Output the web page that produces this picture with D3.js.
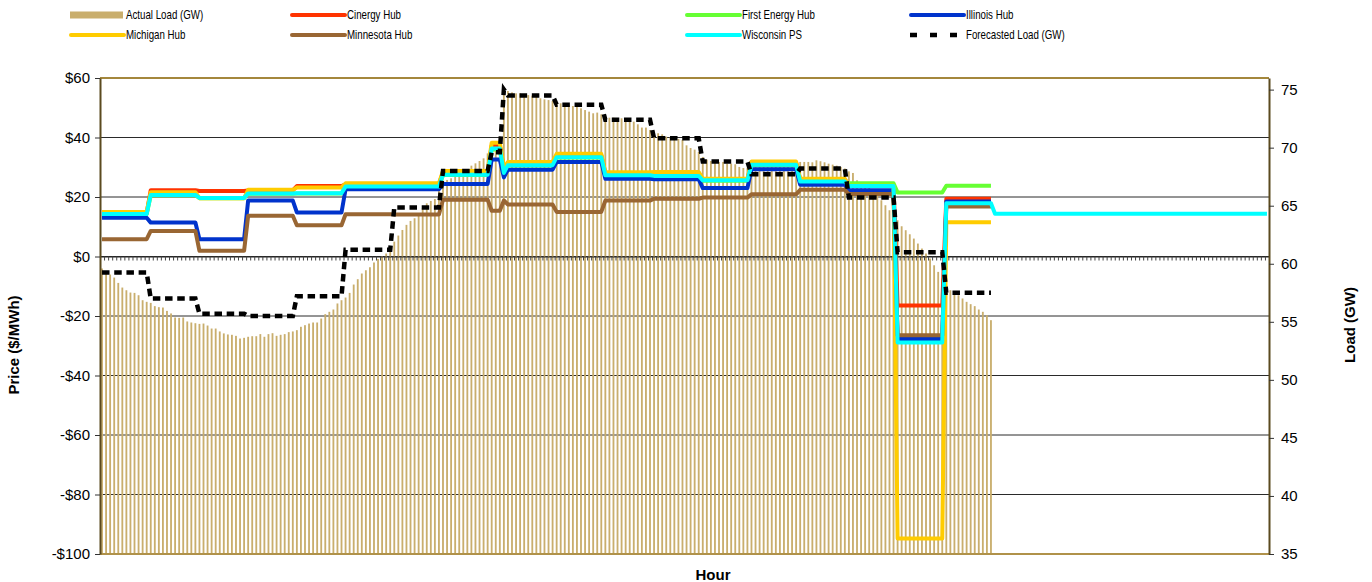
<!DOCTYPE html>
<html>
<head>
<meta charset="utf-8">
<script src="https://cdn.jsdelivr.net/npm/d3@7"></script>
<style>
  body { margin: 0; background: #fff; }
  svg { display: block; font-family: 'Liberation Sans', Arial, sans-serif; }
</style>
</head>
<body>
<div class="chart"></div>
<script>
// 5-minute intervals over the day (24 h x 12)
const intervals = d3.range(288)

// actual load (GW), one value per 5-minute interval
const loadActual = [
  59.59, 59.30, 59.07, 58.81, 58.35, 57.95, 57.72, 57.52, 57.49, 57.29, 56.86, 56.72,
  56.63, 56.35, 56.26, 56.23, 55.94, 55.72, 55.37, 55.34, 55.37, 55.03, 54.94, 54.88,
  54.82, 54.85, 54.68, 54.42, 54.42, 54.17, 54.00, 53.91, 53.88, 53.79, 53.56, 53.62,
  53.71, 53.76, 53.76, 53.94, 53.71, 53.94, 54.02, 53.79, 53.88, 53.94, 54.11, 54.17,
  54.28, 54.57, 54.71, 54.85, 54.94, 54.94, 55.28, 55.66, 55.86, 56.06, 56.58, 56.86,
  57.09, 57.49, 58.21, 58.67, 59.16, 59.44, 59.70, 60.11, 60.42, 60.65, 60.88, 61.17,
  61.91, 62.43, 62.91, 63.35, 63.69, 63.92, 64.26, 64.78, 65.21, 65.41, 65.58, 66.50,
  66.93, 67.22, 67.36, 67.65, 67.85, 67.99, 68.16, 68.45, 68.65, 68.85, 69.08, 69.51,
  69.80, 70.37, 70.95, 74.82, 74.88, 74.76, 74.68, 74.68, 74.62, 74.53, 74.48, 74.39,
  74.25, 74.16, 74.10, 74.02, 73.90, 73.82, 73.82, 73.73, 73.59, 73.53, 73.39, 73.24,
  73.10, 72.96, 73.02, 72.87, 72.67, 72.58, 72.58, 72.53, 72.53, 72.38, 72.30, 72.24,
  72.01, 71.73, 71.73, 71.52, 71.38, 71.24, 71.15, 70.95, 70.87, 70.81, 70.75, 70.66,
  70.20, 69.97, 69.83, 69.63, 69.20, 68.97, 68.85, 68.83, 68.77, 68.77, 68.62, 68.62,
  68.57, 68.34, 68.25, 68.28, 68.34, 68.40, 68.45, 68.48, 68.54, 68.54, 68.54, 68.54,
  68.54, 68.57, 68.62, 68.62, 68.77, 68.77, 68.77, 68.74, 68.91, 68.83, 68.74, 68.62,
  68.54, 68.45, 68.34, 68.20, 67.96, 67.82, 67.19, 67.04, 66.91, 66.67, 66.33, 65.96,
  65.47, 65.04, 64.61, 64.18, 63.75, 63.23, 62.89, 62.54, 62.17, 61.74, 61.31, 60.88,
  60.45, 59.87, 59.30, 58.73, 58.15, 57.72, 57.44, 57.29, 57.01, 56.72, 56.52, 56.35,
  56.06, 55.86, 55.57, 55.14
]

// price periods: index of the first interval of each period
const segStart = [0, 12, 24, 36, 48, 60, 72, 84, 96, 99, 100, 112, 124, 136, 148, 160, 172, 184, 196, 208]

// prices ($/MWh), one value per period
const cinergy     = [14.6, 22.3, 22.0, 22.2, 23.7, 24.3, 24.3, 28.3, 37.3, 29.5, 31.4, 34.0, 28.0, 28.0, 25.8, 31.5, 25.8, 23.9, -16.5, 19.4]
const firstEnergy = [14.3, 20.6, 19.6, 21.1, 21.2, 23.4, 23.4, 27.4, 36.0, 28.0, 30.6, 33.3, 27.2, 27.0, 25.5, 30.7, 25.1, 24.6, 21.5, 23.8]
const illinois    = [13.0, 11.4, 5.8, 18.8, 14.8, 22.6, 22.6, 24.4, 32.6, 26.6, 29.2, 31.8, 26.1, 26.0, 23.0, 29.3, 24.1, 22.3, -27.7, 18.5]
const michigan    = [15.0, 21.6, 19.6, 22.4, 23.2, 24.6, 24.6, 28.7, 38.2, 29.8, 31.8, 34.5, 28.3, 28.4, 26.1, 31.9, 26.1, 23.8, -94.8, 11.5]
const minnesota   = [5.8, 8.6, 1.9, 13.7, 10.5, 14.2, 14.1, 19.1, 15.4, 18.8, 17.5, 15.0, 18.8, 19.4, 19.8, 20.9, 22.4, 21.0, -26.5, 16.8]
const wisconsin   = [14.3, 20.7, 19.7, 21.2, 21.3, 23.5, 23.5, 27.5, 36.3, 28.1, 30.7, 33.4, 27.3, 27.1, 25.6, 30.8, 25.2, 23.7, -28.9, 17.9]
const wisconsinTail = 14.4   // rest of the day

// forecasted load (GW), one value per period
const forecast = [59.25, 57.0, 55.7, 55.5, 57.2, 61.2, 64.85, 68.0, 69.6, 75.0, 74.5, 73.7, 72.4, 70.8, 68.8, 67.7, 68.2, 65.7, 61.0, 57.5]

const priceTicks = [-100, -80, -60, -40, -20, 0, 20, 40, 60]
const loadTicks = [35, 40, 45, 50, 55, 60, 65, 70, 75]

const W = 1372, H = 582
const plot = {left: 100, right: 1269, top: 78, bottom: 554}

const svg = d3.select('.chart')
  .append('svg')
    .attr('width', W)
    .attr('height', H)

const xBand = d3.scaleBand()
  .domain(intervals)
  .range([plot.left, plot.right])
  .paddingInner(0.55)
  .paddingOuter(0.275)
const xLin = d3.scaleLinear()
  .domain([0, intervals.length])
  .range([plot.left, plot.right])
const xc = i => xBand(i) + xBand.bandwidth() / 2

const yPrice = d3.scaleLinear().domain([-100, 60]).range([plot.bottom, plot.top])
const yLoad = d3.scaleLinear().domain([35, 76]).range([plot.bottom, plot.top])

// gridlines (behind the bars)
svg.append('g')
  .selectAll('line')
  .data(priceTicks.filter(d => d > -100 && d < 60))
  .enter()
  .append('line')
    .attr('x1', plot.left)
    .attr('x2', plot.right)
    .attr('y1', d => yPrice(d))
    .attr('y2', d => yPrice(d))
    .style('stroke', '#2a2a2a')
    .style('stroke-width', 1)

// actual load bars
svg.append('g')
  .selectAll('rect')
  .data(loadActual)
  .enter()
  .append('rect')
    .attr('x', (d, i) => xBand(i))
    .attr('width', xBand.bandwidth())
    .attr('y', d => yLoad(d))
    .attr('height', d => yLoad(35) - yLoad(d))
    .style('fill', '#c9ae6d')

// top / bottom frame
svg.append('line')
  .attr('x1', plot.left).attr('x2', plot.right)
  .attr('y1', plot.top).attr('y2', plot.top)
  .style('stroke', '#a4873c').style('stroke-width', 2)
svg.append('line')
  .attr('x1', plot.left).attr('x2', plot.right)
  .attr('y1', plot.bottom).attr('y2', plot.bottom)
  .style('stroke', '#b0924a').style('stroke-width', 2)

// category axis crossing at $0
const xAxis = d3.axisBottom(xLin)
  .tickValues(d3.range(0, intervals.length + 1))
  .tickFormat('')
  .tickSize(4)
  .tickSizeOuter(0)
svg.append('g')
    .attr('transform', `translate(0, ${yPrice(0)})`)
  .call(xAxis)
  .call(g => g.select('.domain').style('stroke', '#222'))
  .call(g => g.selectAll('.tick line').style('stroke', '#444'))

// step series: flat within each period, straight joins between periods
function stepPoints(values) {
  const pts = []
  segStart.forEach((s, k) => {
    const e = (k + 1 < segStart.length ? segStart[k + 1] : loadActual.length) - 1
    pts.push([s, values[k]])
    if (e > s) pts.push([e, values[k]])
  })
  return pts
}

const priceLine = d3.line().x(d => xc(d[0])).y(d => yPrice(d[1]))
const loadLine = d3.line().x(d => xc(d[0])).y(d => yLoad(d[1]))

const hubs = [
  {name: 'Cinergy Hub', values: cinergy, color: '#ff3300'},
  {name: 'First Energy Hub', values: firstEnergy, color: '#66ff33'},
  {name: 'Illinois Hub', values: illinois, color: '#0033cc'},
  {name: 'Michigan Hub', values: michigan, color: '#ffcc00'},
  {name: 'Minnesota Hub', values: minnesota, color: '#996633'},
  {name: 'Wisconsin PS', values: wisconsin, color: '#00ffff'}
]

hubs.forEach(h => {
  let pts = stepPoints(h.values)
  if (h.values === wisconsin) {
    pts = pts.concat([[loadActual.length, wisconsinTail], [intervals.length - 1, wisconsinTail]])
  }
  svg.append('path')
    .datum(pts)
    .attr('d', priceLine)
    .style('fill', 'none')
    .style('stroke', h.color)
    .style('stroke-width', 4)
    .style('stroke-linejoin', 'round')
})

svg.append('path')
  .datum(stepPoints(forecast))
  .attr('d', loadLine)
  .style('fill', 'none')
  .style('stroke', '#000')
  .style('stroke-width', 4.5)
  .style('stroke-dasharray', '7.5,4.7')

// left axis
const fmtPrice = d => d < 0 ? `-$${-d}` : `$${d}`
svg.append('g')
    .attr('transform', `translate(${plot.left}, 0)`)
  .call(d3.axisLeft(yPrice).tickValues(priceTicks).tickFormat(fmtPrice).tickSize(5).tickSizeOuter(0))
  .call(g => g.select('.domain').style('stroke', '#5b4a1f').style('stroke-width', 2))
  .call(g => g.selectAll('.tick line').style('stroke', '#333'))
  .call(g => g.selectAll('.tick text')
    .attr('x', -10)
    .style('font-size', '15px')
    .style('font-family', "'Liberation Sans', Arial, sans-serif")
    .style('fill', '#000'))

// right axis
svg.append('g')
    .attr('transform', `translate(${plot.right}, 0)`)
  .call(d3.axisRight(yLoad).tickValues(loadTicks).tickSize(5).tickSizeOuter(0))
  .call(g => g.select('.domain').style('stroke', '#5b4a1f').style('stroke-width', 2))
  .call(g => g.selectAll('.tick line').style('stroke', '#333'))
  .call(g => g.selectAll('.tick text')
    .attr('x', 12)
    .style('font-size', '15px')
    .style('font-family', "'Liberation Sans', Arial, sans-serif")
    .style('fill', '#000'))

// axis titles
svg.append('text')
  .attr('transform', 'translate(19, 345) rotate(-90)')
  .style('text-anchor', 'middle')
  .style('font-weight', 'bold')
  .style('font-size', '15px')
  .text('Price ($/MWh)')

svg.append('text')
  .attr('transform', 'translate(1355, 325) rotate(-90)')
  .style('text-anchor', 'middle')
  .style('font-weight', 'bold')
  .style('font-size', '15px')
  .text('Load (GW)')

svg.append('text')
  .attr('x', 713)
  .attr('y', 580)
  .style('text-anchor', 'middle')
  .style('font-weight', 'bold')
  .style('font-size', '15px')
  .text('Hour')

// legend
const legendItems = [
  {name: 'Actual Load (GW)', kind: 'bar', color: '#c9ae6d', col: 0, row: 0},
  {name: 'Cinergy Hub', kind: 'line', color: '#ff3300', col: 1, row: 0},
  {name: 'First Energy Hub', kind: 'line', color: '#66ff33', col: 2, row: 0},
  {name: 'Illinois Hub', kind: 'line', color: '#0033cc', col: 3, row: 0},
  {name: 'Michigan Hub', kind: 'line', color: '#ffcc00', col: 0, row: 1},
  {name: 'Minnesota Hub', kind: 'line', color: '#996633', col: 1, row: 1},
  {name: 'Wisconsin PS', kind: 'line', color: '#00ffff', col: 2, row: 1},
  {name: 'Forecasted Load (GW)', kind: 'dash', color: '#000', col: 3, row: 1}
]
const colX = [70, 291, 686, 910]
const rowY = [15, 35]

const legend = svg.append('g')
  .selectAll('.legend-item')
  .data(legendItems)
  .enter()
  .append('g')
    .attr('class', 'legend-item')
    .attr('transform', d => `translate(${colX[d.col]}, ${rowY[d.row]})`)

legend.filter(d => d.kind === 'bar')
  .append('rect')
    .attr('x', 0).attr('y', -3.5)
    .attr('width', 53).attr('height', 7)
    .style('fill', d => d.color)

legend.filter(d => d.kind === 'line')
  .append('line')
    .attr('x1', 1).attr('x2', 54)
    .style('stroke', d => d.color)
    .style('stroke-width', 4)
    .style('stroke-linecap', 'round')

legend.filter(d => d.kind === 'dash')
  .append('line')
    .attr('x1', 0).attr('x2', 48)
    .style('stroke', d => d.color)
    .style('stroke-width', 4.5)
    .style('stroke-dasharray', '7,13')

legend.append('text')
  .attr('transform', 'translate(56, 0) scale(0.81, 1)')
  .attr('dy', '0.35em')
  .style('font-size', '12px')
  .text(d => d.name)
</script>
</body>
</html>
